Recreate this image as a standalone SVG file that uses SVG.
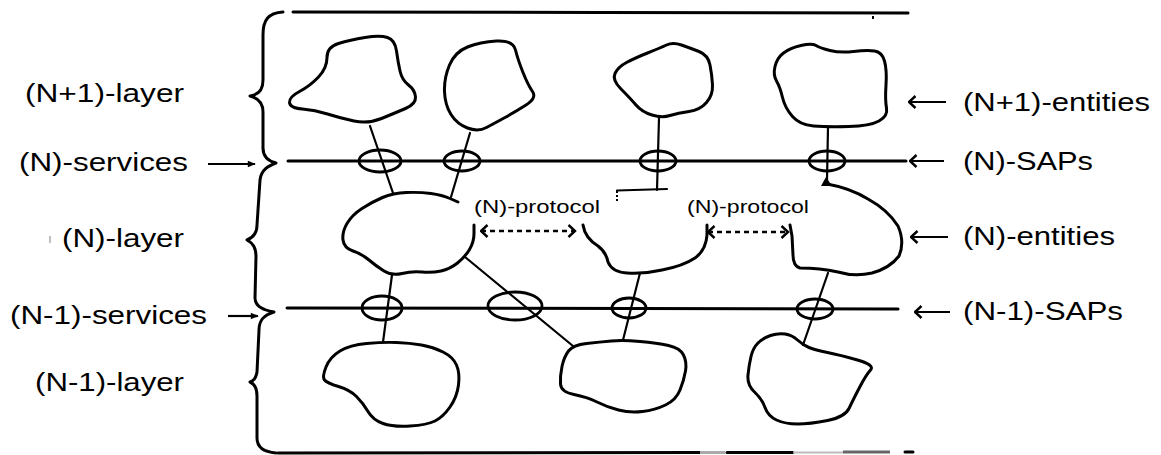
<svg xmlns="http://www.w3.org/2000/svg" width="1161" height="455" viewBox="0 0 1161 455">
<defs>
<style>
.blob{fill:none;stroke:#000;stroke-width:3;stroke-linejoin:round;stroke-linecap:round}
.stem{fill:none;stroke:#000;stroke-width:2.2;stroke-linecap:round}
.sap{fill:none;stroke:#000;stroke-width:2.8}
.rule{fill:none;stroke:#000;stroke-width:3;stroke-linecap:round}
.lbl{font-family:"Liberation Sans",Arial,Helvetica,sans-serif;font-size:26px;fill:#000}
.plbl{font-family:"Liberation Sans",Arial,Helvetica,sans-serif;font-size:18px;fill:#000}
.dash{fill:none;stroke:#000;stroke-width:2.5;stroke-dasharray:5 4}
.arr{fill:none;stroke:#000;stroke-width:2.2}
</style>
<marker id="chev" viewBox="0 0 10 14" refX="8.5" refY="7" markerWidth="10" markerHeight="14" markerUnits="userSpaceOnUse" orient="auto-start-reverse">
<path d="M2,1 L8.5,7 L2,13" fill="none" stroke="#000" stroke-width="2.4"/>
</marker>
<marker id="solid" viewBox="0 0 10 10" refX="9" refY="5" markerWidth="9" markerHeight="8" markerUnits="userSpaceOnUse" orient="auto">
<path d="M0,1 L10,5 L0,9 Z" fill="#000"/>
</marker>
</defs>
<rect width="1161" height="455" fill="#fff"/>

<g id="frame">
<path class="rule" d="M293,12 L600,12.5 L908,13"/>
<path class="rule" d="M288,161 L906,161"/>
<path class="rule" d="M287,308 L898,309"/>
<path class="rule" d="M278,453 L700,452.5"/>
<path d="M700,452.5 L725,452.5" stroke="#aaa" stroke-width="3"/>
<path class="rule" d="M727,452.5 L793,452.5"/>
<path d="M793,452.5 L843,452.5" stroke="#bbb" stroke-width="2"/>
<path d="M843,452 L890,452" stroke="#666" stroke-width="3"/>
<path class="rule" d="M905,452 L913,452"/>
<path d="M873,16 L873,19" stroke="#000" stroke-width="2"/>
<path class="blob" d="M283,12 C268,13 263,20 263,35 L263,80 C263,90 258,95 250,96 C258,98 263,103 263,112 L263,148 C263,157 268,161 276,163 C268,166 261,170 260,180 L257,225 C257,234 252,238 247,240 C253,243 256,248 256,256 L255,298 C255,306 262,310 274,312 C264,315 259,320 259,330 L257,372 C256,378 254,381 250,382 C255,384 257,389 257,396 L257,438 C257,447 264,452 276,453"/>
</g>

<g id="connectors">
<line class="stem" x1="370" y1="126" x2="393" y2="193"/>
<line class="stem" x1="470" y1="133" x2="451" y2="197"/>
<line class="stem" x1="659" y1="118" x2="657" y2="190"/>
<path class="stem" d="M617,190.5 L667,189" stroke-width="3"/>
<path d="M617,191 L617,203" stroke="#000" stroke-width="2" stroke-dasharray="2 2"/>
<line class="stem" x1="828" y1="127" x2="827" y2="181"/>
<path d="M821,186 L826,177 L832,186 Z" fill="#000"/>
<line class="stem" x1="392" y1="275" x2="383" y2="342"/>
<line class="stem" x1="465" y1="257" x2="573" y2="346"/>
<line class="stem" x1="640" y1="273" x2="623" y2="340"/>
<line class="stem" x1="828" y1="273" x2="803" y2="345"/>
<line class="dash" x1="481" y1="231" x2="575" y2="231" marker-start="url(#chev)" marker-end="url(#chev)"/>
<line class="dash" x1="708" y1="232" x2="788" y2="232" marker-start="url(#chev)" marker-end="url(#chev)"/>
<line class="arr" x1="909" y1="102" x2="946" y2="102" marker-start="url(#chev)"/>
<line class="arr" x1="910" y1="161" x2="944" y2="161" marker-start="url(#chev)"/>
<line class="arr" x1="911" y1="237" x2="948" y2="237" marker-start="url(#chev)"/>
<line class="arr" x1="915" y1="312" x2="950" y2="312" marker-start="url(#chev)"/>
<line class="arr" x1="208" y1="164" x2="255" y2="164" marker-end="url(#solid)"/>
<line class="arr" x1="228" y1="316" x2="258" y2="316" marker-end="url(#solid)"/>
</g>

<g id="sap-n-1"><ellipse class="sap" cx="380" cy="161" rx="21" ry="11"/></g>
<g id="sap-n-2"><ellipse class="sap" cx="462" cy="161" rx="18" ry="10"/></g>
<g id="sap-n-3"><ellipse class="sap" cx="658" cy="161" rx="18" ry="10"/></g>
<g id="sap-n-4"><ellipse class="sap" cx="827" cy="161" rx="18" ry="10"/></g>
<g id="sap-nm1-1"><ellipse class="sap" cx="382" cy="308" rx="20" ry="12"/></g>
<g id="sap-nm1-2"><ellipse class="sap" cx="515" cy="306" rx="27" ry="14"/></g>
<g id="sap-nm1-3"><ellipse class="sap" cx="629" cy="308" rx="17" ry="10"/></g>
<g id="sap-nm1-4"><ellipse class="sap" cx="815" cy="309" rx="18" ry="10"/></g>

<g id="entity-np1-1"><path class="blob" d="M327,57.5 Q327,47 338.5,43.5 Q350,40 365,37.5 Q380,35 387.5,37.5 Q395,40 396.5,51 Q398,62 400,71 Q402,80 408.5,85 Q415,90 415.5,97 Q416,104 405.5,108.5 Q395,113 381.5,118.5 Q368,124 354,121 Q340,118 327.5,114 Q315,110 302.5,109 Q290,108 289.5,102.5 Q289,97 299.5,91.5 Q310,86 318.5,77 Q327,68 327,57.5 Z"/></g>
<g id="entity-np1-2"><path class="blob" d="M449.5,65 Q455,52 467.5,47 Q480,42 496.5,41 Q513,40 515.5,50 Q518,60 523,72.5 Q528,85 532.5,91.5 Q537,98 526,105 Q515,112 505,117.5 Q495,123 486.5,127.5 Q478,132 467.5,128 Q457,124 451,114.5 Q445,105 444.5,91.5 Q444,78 449.5,65 Z"/></g>
<g id="entity-np1-3"><path class="blob" d="M621,89 Q612,80 615,73.5 Q618,67 626.5,62.5 Q635,58 647.5,53 Q660,48 666.5,45 Q673,42 681.5,45 Q690,48 699,51.5 Q708,55 710,65 Q712,75 712.5,85 Q713,95 706.5,102.5 Q700,110 689,111.5 Q678,113 670,115.5 Q662,118 652,115 Q642,112 636,105 Q630,98 621,89 Z"/></g>
<g id="entity-np1-4"><path class="blob" d="M775,66.5 Q777,58 783.5,53 Q790,48 801,45.5 Q812,43 816,45.5 Q820,48 830,50.5 Q840,53 853.5,51.5 Q867,50 874.5,51 Q882,52 884.5,61 Q887,70 886,85 Q885,100 886.5,108 Q888,116 879,121 Q870,126 848.5,126.5 Q827,127 813.5,126 Q800,125 792.5,116.5 Q785,108 782.5,97.5 Q780,87 776.5,81 Q773,75 775,66.5 Z"/></g>

<g id="entity-n-1"><path class="blob" d="M474,225 L474,233.5 Q474,242 469.5,249.5 Q465,257 457.5,263 Q450,269 441,271 Q432,273 422,272 Q412,271 402,273.5 Q392,276 384,271 Q376,266 369,260 Q362,254 353,251 Q344,248 343,240 Q342,232 347,223.5 Q352,215 362,208.5 Q372,202 382.5,197.5 Q393,193 406.5,192.5 Q420,192 431,193.5 Q442,195 450,198.5 L458,202"/></g>
<g id="entity-n-2"><path class="blob" d="M583,225 Q585,238 598,246 Q606,252 608,262 Q612,272 627,273 Q645,274 662,270 Q683,266 695,258 Q706,250 707,235 L707,225"/></g>
<g id="entity-n-3"><path class="blob" d="M827,184 Q850,188 868,199 Q888,210 898,226 Q905,242 899,256 Q890,268 872,273 Q855,277 838,272 Q820,268 800,268 Q793,266 793,255 L792,236 L790,225"/></g>

<g id="entity-nm1-1"><path class="blob" d="M396.5,342.5 Q383,342 366.5,343.5 Q350,345 340,351 Q330,357 326,367 Q322,377 324.5,380 Q327,383 338.5,386.5 Q350,390 356.5,396.5 Q363,403 368,411.5 Q373,420 383,423.5 Q393,427 410,426 Q427,425 435,421 Q443,417 450,407 Q457,397 458.5,385 Q460,373 456.5,365 Q453,357 443,352 Q433,347 421.5,345 Q410,343 396.5,342.5 Z"/></g>
<g id="entity-nm1-2"><path class="blob" d="M568.5,351 Q573,345 586.5,343.5 Q600,342 611.5,341 Q623,340 640,341.5 Q657,343 668.5,345.5 Q680,348 683.5,355 Q687,362 685.5,371 Q684,380 680,390 Q676,400 665.5,405 Q655,410 642.5,411.5 Q630,413 618.5,410 Q607,407 597,402 Q587,397 574,394.5 Q561,392 560.5,384 Q560,376 562,366.5 Q564,357 568.5,351 Z"/></g>
<g id="entity-nm1-3"><path class="blob" d="M809,347.5 Q803,345 797.5,340 Q792,335 785,334 Q778,333 770.5,335.5 Q763,338 758,343 Q753,348 751,356.5 Q749,365 748,375 Q747,385 754.5,392 Q762,399 765,407.5 Q768,416 776.5,420 Q785,424 797.5,424 Q810,424 827.5,420.5 Q845,417 849,408.5 Q853,400 859.5,387.5 Q866,375 870.5,370 Q875,365 857.5,360 Q840,355 827.5,352.5 Q815,350 809,347.5 Z"/></g>

<g id="label-np1-layer"><text class="lbl" x="25" y="102" textLength="159" lengthAdjust="spacingAndGlyphs">(N+1)-layer</text></g>
<g id="label-n-services"><text class="lbl" x="19" y="171" textLength="169" lengthAdjust="spacingAndGlyphs">(N)-services</text></g>
<g id="label-n-layer"><path d="M50,236 L50,243" stroke="#aaa" stroke-width="1.5"/><text class="lbl" x="62" y="247" textLength="122" lengthAdjust="spacingAndGlyphs">(N)-layer</text></g>
<g id="label-nm1-services"><text class="lbl" x="10" y="324" textLength="197" lengthAdjust="spacingAndGlyphs">(N-1)-services</text></g>
<g id="label-nm1-layer"><text class="lbl" x="35" y="391" textLength="149" lengthAdjust="spacingAndGlyphs">(N-1)-layer</text></g>
<g id="label-np1-entities"><text class="lbl" x="963" y="111" textLength="187" lengthAdjust="spacingAndGlyphs">(N+1)-entities</text></g>
<g id="label-n-saps"><text class="lbl" x="963" y="170" textLength="130" lengthAdjust="spacingAndGlyphs">(N)-SAPs</text></g>
<g id="label-n-entities"><text class="lbl" x="963" y="245" textLength="152" lengthAdjust="spacingAndGlyphs">(N)-entities</text></g>
<g id="label-nm1-saps"><text class="lbl" x="963" y="320" textLength="160" lengthAdjust="spacingAndGlyphs">(N-1)-SAPs</text></g>
<g id="label-protocol-1"><text class="plbl" x="474" y="213" textLength="126" lengthAdjust="spacingAndGlyphs">(N)-protocol</text></g>
<g id="label-protocol-2"><text class="plbl" x="687" y="213" textLength="122" lengthAdjust="spacingAndGlyphs">(N)-protocol</text></g>
</svg>
